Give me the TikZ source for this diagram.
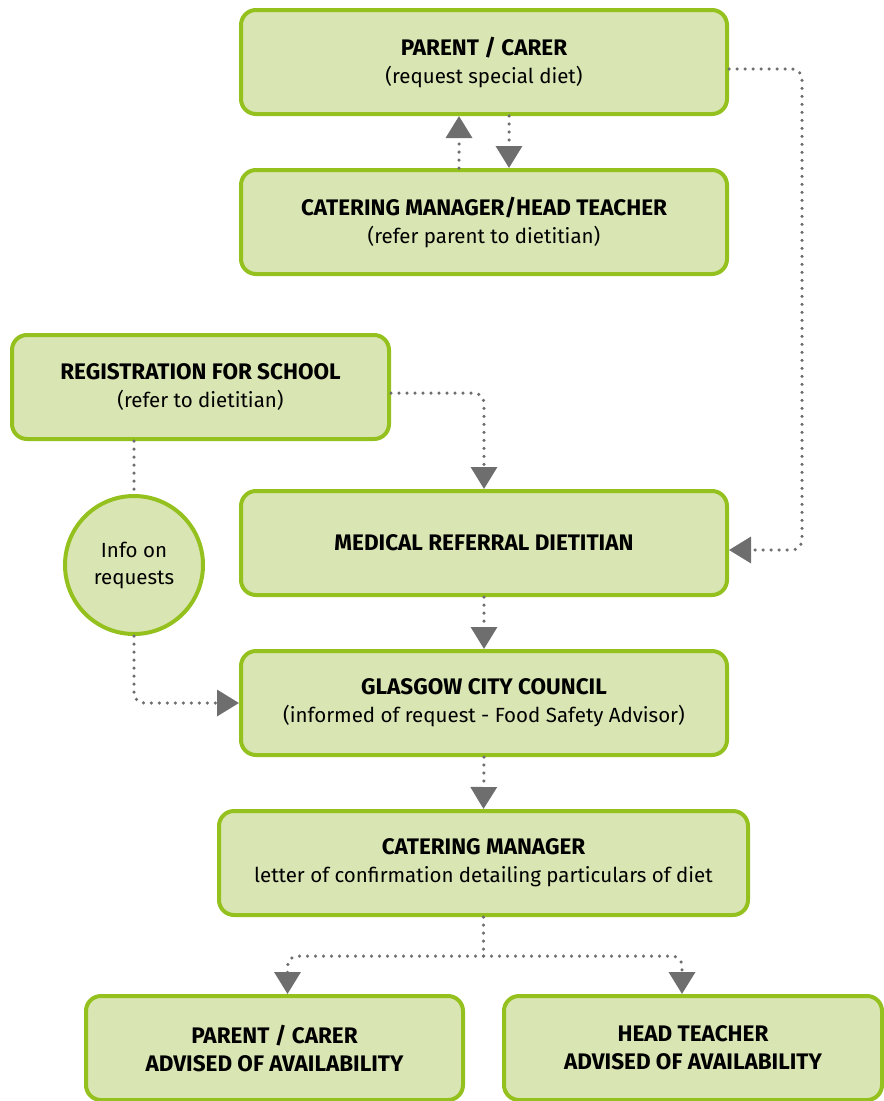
\documentclass[tikz,border=0pt]{standalone}
\usepackage{fontspec}
\setmainfont{Fira Sans}
\usetikzlibrary{arrows.meta,calc}
\usepackage{xcolor}
\definecolor{boxfill}{HTML}{D9E5B3}
\definecolor{boxedge}{HTML}{95C11F}
\definecolor{dotgray}{HTML}{6E6E6E}
\newcommand{\boxhead}[1]{{\fontsize{22.5}{28}\selectfont\bfseries #1}}

\begin{document}
\begin{tikzpicture}[x=1pt, y=-1pt,
  stepbox/.style={
    rectangle,
    draw=boxedge,
    fill=boxfill,
    line width=4pt,
    rounded corners=15pt,
    minimum height=104pt,
    inner sep=0pt,
    align=center,
    font=\fontsize{20.5}{28}\selectfont
  },
  widebox/.style={stepbox, minimum width=486pt},
  halfbox/.style={stepbox, minimum width=377pt},
  infonode/.style={
    circle,
    draw=boxedge,
    fill=boxfill,
    line width=4pt,
    minimum size=138pt,
    inner sep=0pt,
    align=center,
    font=\fontsize{20.5}{27}\selectfont
  },
  dotline/.style={
    draw=dotgray,
    line width=3.5pt,
    line cap=round,
    dash pattern=on 0pt off 8pt,
    rounded corners=10pt
  },
  flow/.style={dotline, -{Triangle[width=26pt,length=22pt]}}
  ]

  \useasboundingbox (0,0) rectangle (884,1101);

  % top of the chain
  \node[anchor=north west, widebox] (parent) at (239,8) {\boxhead{PARENT / CARER}\\(request special diet)};
  \node[anchor=north west, widebox] (cater) at (239,168) {\boxhead{CATERING MANAGER/HEAD TEACHER}\\(refer parent to dietitian)};

  % registration side
  \node[anchor=north west, halfbox] (reg) at (10,333) {\boxhead{REGISTRATION FOR SCHOOL}\\(refer to dietitian)};
  \node[infonode] (info) at (134,565) {Info on\\requests};

  % middle of the chain
  \node[anchor=north west, widebox] (mrd) at (239,489) {\boxhead{MEDICAL REFERRAL DIETITIAN}};
  \node[anchor=north west, widebox] (gcc) at (239,649) {\boxhead{GLASGOW CITY COUNCIL}\\(informed of request - Food Safety Advisor)};
  \node[anchor=north west, stepbox, minimum width=529pt] (cm) at (217,809) {\boxhead{CATERING MANAGER}\\letter of confirmation detailing particulars of diet};

  % outcome
  \node[anchor=north west, halfbox] (pa) at (84,994) {\boxhead{PARENT / CARER}\\\boxhead{ADVISED OF AVAILABILITY}};
  \node[anchor=north west, halfbox, minimum width=378pt] (ht) at (502,994) {\boxhead{HEAD TEACHER}\\\boxhead{ADVISED OF AVAILABILITY}};

  \draw[flow] ([xshift=-25pt]cater.north) -- ([xshift=-25pt]parent.south);
  \draw[flow] ([xshift=25pt]parent.south) -- ([xshift=25pt]cater.north);

  \draw[flow] ([yshift=-7pt]parent.east) -- ++(73,0) |- ([yshift=-7pt]mrd.east);
  \draw[flow] ([yshift=-6pt]reg.east) -| (mrd.north);

  \draw[dotline] (reg.south -| info.north) -- (info.north);
  \draw[flow] (info.south) |- (gcc.west);

  \draw[flow] (mrd.south) -- (gcc.north);
  \draw[flow] (gcc.south) -- (cm.north);

  \draw[dotline] (cm.south) -- ++(0,39) coordinate (split);
  \draw[flow] (split) -| ([xshift=13pt]pa.north);
  \draw[flow] (split) -| ([xshift=-11pt]ht.north);

\end{tikzpicture}
\end{document}
